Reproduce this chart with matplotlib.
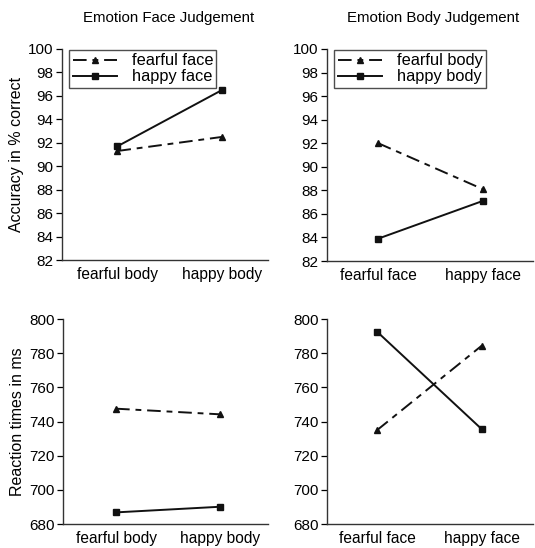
import matplotlib.pyplot as plt

plt.rcParams['font.family'] = ['Liberation Sans', 'DejaVu Sans']

# accuracy data (% correct)
face_cats = ['fearful body', 'happy body']
acc_fearful_face = [91.3, 92.5]
acc_happy_face = [91.7, 96.5]

body_cats = ['fearful face', 'happy face']
acc_fearful_body = [92.0, 88.1]
acc_happy_body = [83.9, 87.1]

# reaction times (ms)
rt_fearful_face = [747.5, 744.2]
rt_happy_face = [686.8, 690.1]
rt_fearful_body = [735.0, 784.4]
rt_happy_body = [792.5, 735.5]

W, H = 535, 548
fig = plt.figure(figsize=(W / 100, H / 100), dpi=100)


def make_axes(x0, x1, y0, y1):
    # pixel box -> figure fraction
    return fig.add_axes([x0 / W, 1 - y1 / H, (x1 - x0) / W, (y1 - y0) / H])


ax_tl = make_axes(62, 268, 49, 260)
ax_tr = make_axes(327, 533, 49, 261)
ax_bl = make_axes(63, 268, 319, 524)
ax_br = make_axes(327, 533, 319, 524)

dash = (7, 3, 3, 3)
col = '#111111'


def draw(ax, cats, dashed_vals, solid_vals, dashed_lab, solid_lab, off):
    x = [0, 1]
    ax.plot(x, dashed_vals, color=col, lw=1.4, dashes=dash, marker='^',
            ms=4, label=dashed_lab)
    ax.plot(x, solid_vals, color=col, lw=1.4, marker='s', ms=4,
            label=solid_lab)
    ax.set_xticks(x)
    ax.set_xticklabels(cats, fontsize=11.2)
    ax.set_xlim(-off, -off + 1.97)
    ax.tick_params(axis='x', length=0, pad=5)
    ax.tick_params(axis='y', length=4, width=0.9, labelsize=11, pad=2)
    for s in ['top', 'right']:
        ax.spines[s].set_visible(False)
    for s in ['left', 'bottom']:
        ax.spines[s].set_linewidth(1.0)
        ax.spines[s].set_color('#333333')


draw(ax_tl, face_cats, acc_fearful_face, acc_happy_face,
     'fearful face', 'happy face', 0.53)
draw(ax_tr, body_cats, acc_fearful_body, acc_happy_body,
     'fearful body', 'happy body', 0.49)
draw(ax_bl, face_cats, rt_fearful_face, rt_happy_face,
     None, None, 0.51)
draw(ax_br, body_cats, rt_fearful_body, rt_happy_body,
     None, None, 0.48)

for ax in (ax_tl, ax_tr):
    ax.set_ylim(82, 100)
    ax.set_yticks(range(82, 101, 2))
    leg = ax.legend(loc='upper left', bbox_to_anchor=(0.02, 1.01),
                    fontsize=11.8, frameon=True, fancybox=False,
                    handlelength=2.7, borderpad=0.2, labelspacing=0.05,
                    handletextpad=0.9, borderaxespad=0.2)
    leg.get_frame().set_edgecolor('#222222')
    leg.get_frame().set_linewidth(1.0)

for ax in (ax_bl, ax_br):
    ax.set_ylim(680, 800)
    ax.set_yticks(range(680, 801, 20))

ax_tl.set_ylabel('Accuracy in % correct', fontsize=11.5, labelpad=3)
ax_bl.set_ylabel('Reaction times in ms', fontsize=11.5, labelpad=3)

fig.text(169 / W, 1 - 18 / H, 'Emotion Face Judgement', ha='center',
         va='center', fontsize=10.8)
fig.text(433 / W, 1 - 18 / H, 'Emotion Body Judgement', ha='center',
         va='center', fontsize=10.8)

fig.savefig('out.png', dpi=100)
